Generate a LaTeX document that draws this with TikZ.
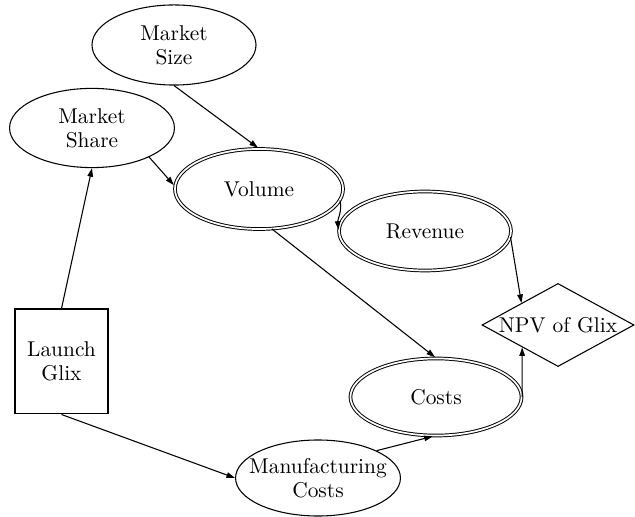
\documentclass[tikz,border=0pt]{standalone}
\usetikzlibrary{shapes.geometric,arrows.meta}
\begin{document}
\begin{tikzpicture}[x=0.467pt,y=-0.467pt,
  every node/.style={font=\fontsize{10}{11.2}\selectfont, align=center, inner sep=0pt},
  ell/.style={draw, ellipse, line width=0.5pt},
  dell/.style={draw, ellipse, line width=0.45pt, double, double distance=0.8pt},
  arr/.style={line width=0.5pt, -{Triangle[length=4pt,width=2.6pt]}},
  arrd/.style={arr, shorten >=0.6pt}]
\useasboundingbox (0,0) rectangle (635,517);
\node[ell, minimum width=76.6pt, minimum height=37.4pt] (ms) at (174,45) {Market\\Size};
\node[ell, minimum width=77pt, minimum height=37pt] (msh) at (92,128) {Market\\Share};
\node[dell, minimum width=78.5pt, minimum height=37.4pt] (vol) at (259,189) {Volume};
\node[dell, minimum width=80.3pt, minimum height=36.9pt] (rev) at (425,231) {Revenue};
\node[dell, minimum width=79.9pt, minimum height=36pt] (costs) at (436,397) {Costs};
\node[ell, minimum width=77pt, minimum height=35.5pt] (mc) at (318,478) {};
\node (mct) at (mc) {Manufacturing\\Costs};
\node[draw, diamond, shape aspect=1.85, minimum width=71pt, minimum height=38.8pt, line width=0.5pt] (npv) at (558,325) {NPV of Glix};
\node[draw, rectangle, minimum width=43.4pt, minimum height=49pt, line width=0.5pt] (lg) at (61.5,361.5) {Launch\\Glix};
\draw[arrd] (ms.south) -- (vol.north);
\draw[arrd] (msh.-27) -- (vol.178);
\draw[arr] (lg.north) -- (msh.south);
\draw[arr] (lg.south) -- (mc.west);
\draw[arrd] (vol.-72) -- (costs.north);
\draw[arrd] (vol.-8) to[out=-80,in=95] (rev.west);
\draw[arr] (rev.-4) -- (npv.149);
\draw[arr] (costs.east) -- (npv.-148);
\draw[arrd] (mc.25) -- (costs.-93);
\end{tikzpicture}
\end{document}
